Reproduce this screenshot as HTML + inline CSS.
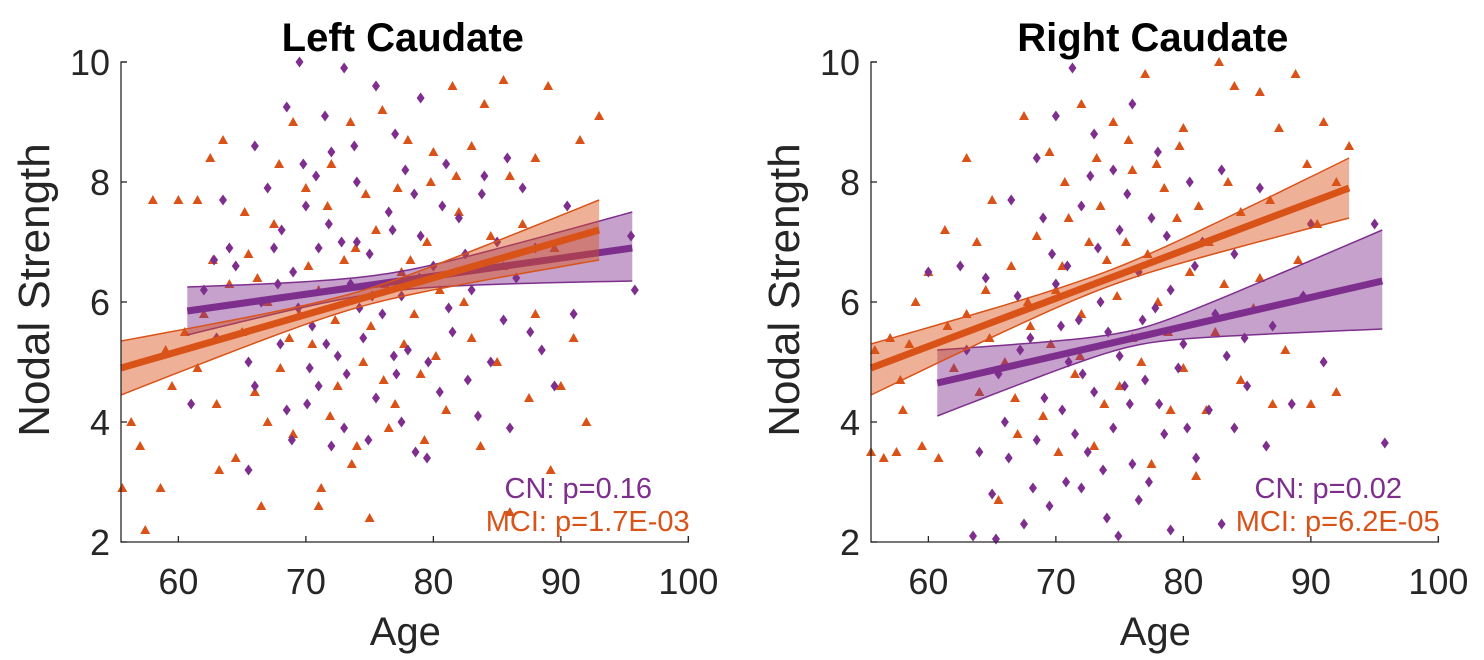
<!DOCTYPE html>
<html><head><meta charset="utf-8"><style>
html,body{margin:0;padding:0;background:#fff;}
svg{display:block;font-family:"Liberation Sans",Arial,sans-serif;}
</style></head><body>
<svg id="fig" width="1484" height="660" viewBox="0 0 1484 660"></svg>
<script>
// ---- data ----
const xTicks=[60,70,80,90,100];
const yTicks=[2,4,6,8,10];
const panelTitles=["Left Caudate","Right Caudate"];
const cnLabels=["CN: p=0.16","CN: p=0.02"];
const mciLabels=["MCI: p=1.7E-03","MCI: p=6.2E-05"];
// fit lines and CI bands: [x, fit, lower, upper] at start, narrowest point, end
const leftCnFit=[[60.7,5.85,5.45,6.25],[76,6.3,6.15,6.45],[95.6,6.9,6.35,7.5]];
const leftMciFit=[[55.5,4.9,4.45,5.35],[74,6.05,5.92,6.18],[93,7.2,6.7,7.7]];
const rightCnFit=[[60.7,4.65,4.1,5.2],[76,5.35,5.22,5.48],[95.6,6.35,5.55,7.2]];
const rightMciFit=[[55.5,4.9,4.45,5.3],[74,6.4,6.27,6.53],[93,7.9,7.4,8.4]];
const leftCn=[[69.5,10],[73,9.9],[68.5,9.25],[71.5,9.1],[75.5,9.6],[79,9.4],[66,8.6],[72,8.5],[77,8.8],[81,8.3],[84,8.1],[87,7.9],[90.5,7.6],[95.5,7.1],[95.8,6.2],[63.5,7.7],[67,7.9],[70,7.6],[74,8.0],[76.5,7.5],[78.5,7.8],[82,7.4],[85,7.0],[88,6.9],[62,6.2],[64.5,6.6],[66.5,6.0],[69,6.5],[71,6.9],[73.5,6.3],[75,6.8],[77.5,6.1],[80,6.6],[83,6.2],[86.5,6.4],[91,5.8],[63,5.4],[65.5,5.0],[68,5.3],[70.5,5.6],[72.5,5.1],[74.5,5.4],[76,5.8],[78,5.2],[81.5,5.5],[84.5,5.0],[88.5,5.2],[66,4.6],[68.5,4.2],[71,4.6],[73,3.9],[75.5,4.4],[77.5,4.0],[80.5,4.5],[83.5,4.1],[86,3.9],[72,3.6],[79.5,3.4],[65.5,3.2],[68.9,3.7],[70.3,4.9],[74,7.0],[79,7.1],[82.5,6.8],[67.5,6.9],[71.8,7.3],[76.8,7.2],[85.5,5.7],[89.5,4.6],[61,4.3],[64,6.9],[70.8,8.1],[73.8,8.6],[77.8,8.2],[80.7,7.6],[72.8,7.0],[75.2,6.1],[78.9,6.4],[81.2,5.9],[74.2,5.9],[76.9,5.1],[79.6,5.0],[71.6,5.3],[69.4,5.9],[67.8,6.3],[73.2,4.8],[77.1,4.8],[82.7,4.7],[70.1,4.3],[74.9,3.7],[78.6,3.5],[69.8,8.3],[68.1,7.2],[87.6,5.5],[83.8,7.8],[85.8,8.4],[62.8,6.7]];
const leftMci=[[55.6,2.9],[57.4,2.2],[58.6,2.9],[56.3,4.0],[57,3.6],[59.5,4.6],[60,7.7],[61.5,7.7],[62.5,8.4],[63.5,8.7],[58,7.7],[62,5.8],[63.2,3.2],[64.5,3.4],[66.5,2.6],[67,4.0],[69,9.0],[71.2,2.9],[71,2.6],[75,2.4],[86,2.5],[81.5,9.6],[84,9.3],[85.5,9.7],[89,9.6],[93,9.1],[91.5,8.7],[88,8.4],[86,8.1],[83,8.6],[80,8.5],[78,8.7],[76,9.2],[73.5,9.0],[72,8.3],[70,7.9],[67.5,7.3],[65.5,6.8],[64,6.3],[60.5,5.5],[61.5,4.9],[59,5.2],[65,5.5],[68,4.9],[70.5,5.3],[72.5,4.6],[74.5,5.0],[77,4.3],[79,4.8],[81,4.2],[83,5.4],[85,5.0],[87.5,4.4],[90,4.6],[92,4.0],[88,5.8],[85.5,6.6],[82,7.5],[79.5,7.0],[77.5,6.5],[75.5,7.2],[73,6.7],[71,6.2],[69.5,5.8],[67,6.0],[78.5,5.8],[80.5,6.2],[84.5,7.1],[87,7.3],[89.5,6.9],[91,5.4],[66,4.5],[63,4.3],[69,3.8],[74,3.6],[76.5,3.9],[71.7,7.6],[74.7,7.8],[77.2,7.9],[79.8,8.0],[81.8,8.1],[73.9,6.9],[76.2,6.3],[78.2,6.7],[70.2,6.6],[72.3,5.7],[75.1,5.6],[77.7,5.3],[80.2,5.1],[82.4,6.0],[68.7,5.4],[66.2,6.4],[71.9,4.1],[76.1,4.7],[79.3,3.7],[73.6,3.3],[83.7,3.6],[89.2,3.2],[67.9,8.3],[65.2,7.5],[62.7,6.7]];
const rightCn=[[71.3,9.9],[70,9.1],[73,8.8],[76,9.3],[68.5,8.4],[74.5,8.2],[78,8.5],[80.5,8.0],[83,8.2],[86,7.9],[90,7.3],[95,7.3],[66.5,7.7],[69,7.4],[72,7.6],[75,7.2],[77.5,7.4],[81.5,7.0],[84,6.8],[62.5,6.6],[64.5,6.4],[67,6.1],[70,6.3],[73.5,6.0],[76.5,6.5],[79,6.2],[82.5,5.8],[87,5.6],[63,5.2],[65.5,4.8],[68,5.4],[71,5.0],[73,4.5],[75,5.1],[77,4.7],[80,5.3],[85,4.6],[88.5,4.3],[66,4.0],[68.5,3.7],[70.5,4.2],[72.5,3.5],[74.5,3.9],[76,3.3],[78.5,3.8],[81,3.4],[84,3.9],[65,2.8],[67.5,2.3],[69.5,2.6],[72,2.9],[74,2.4],[76.5,2.7],[79,2.2],[63.5,2.1],[65.3,2.05],[60,6.5],[95.8,3.65],[83,2.3],[86.5,3.6],[91,5.0],[69.7,6.8],[77.8,5.9],[71.8,5.7],[82,4.2],[64,3.5],[70.8,3.0],[75.8,4.3],[72.7,8.1],[75.6,7.8],[78.7,7.1],[73.3,6.9],[70.4,5.6],[74.1,5.5],[76.8,5.7],[79.6,4.9],[72.1,4.8],[75.4,4.6],[78.1,4.3],[69.1,4.4],[71.5,3.8],[73.7,3.2],[77.3,3.0],[80.3,3.9],[83.4,5.1],[67.2,5.2],[66.3,3.4],[68.2,2.9],[74.9,2.1],[70.9,6.6],[80.9,6.6],[84.8,5.4],[89.4,6.1]];
const rightMci=[[55.5,3.5],[56.5,3.4],[57.5,3.5],[58,4.2],[59.5,3.6],[60.8,3.4],[55.8,5.2],[57,5.4],[58.5,5.3],[59,6.0],[60,6.5],[61.5,5.6],[63,8.4],[65,7.7],[67.5,9.1],[69.5,8.5],[72,9.3],[74.5,9.0],[77,9.8],[80,8.9],[82.8,10],[84,9.6],[86,9.5],[88.8,9.8],[87.5,8.9],[91,9.0],[93,8.6],[92,8.0],[90.5,7.3],[89,6.7],[86,6.4],[84.5,7.5],[82,7.0],[80.5,6.5],[78.5,7.9],[76,8.2],[73.5,7.6],[71,7.4],[68.5,7.1],[66.5,6.6],[64.5,6.2],[63,5.8],[62,4.9],[64,4.5],[66,5.0],[68,5.6],[70,6.2],[72,5.8],[74,6.7],[76,5.4],[78,6.0],[80,4.9],[82.5,5.5],[84.5,4.7],[87,4.3],[90,4.3],[92,4.5],[88,5.2],[85.5,5.9],[79,4.2],[75,4.6],[71.5,4.8],[69,4.1],[67,3.8],[73,3.6],[77.5,3.3],[81,3.1],[65.5,2.7],[70.5,6.6],[75.5,7.0],[79.5,7.4],[83.5,8.0],[67.8,6.0],[70.7,8.0],[73.2,8.4],[75.7,8.7],[77.9,8.3],[79.7,8.6],[72.6,7.0],[74.8,6.1],[77.2,6.8],[81.2,7.6],[69.6,5.3],[71.9,5.1],[76.7,5.0],[78.8,5.5],[73.8,4.3],[70.2,3.5],[66.8,4.4],[64.8,5.4],[63.8,7.0],[61.3,7.2],[57.8,4.7],[86.8,7.7],[89.7,8.3],[83.2,6.3],[81.8,4.2]];

const PURPLE="#7E2F8E", ORANGE="#D95319";
const NS="http://www.w3.org/2000/svg";
const svg=document.getElementById("fig");
function mk(tag,attrs,parent){const e=document.createElementNS(NS,tag);for(const k in attrs)e.setAttribute(k,attrs[k]);(parent||svg).appendChild(e);return e;}

// smooth CI offset: hyperbolic between mid and each end
function bandPts(f,col){
  const [s,m,e]=f;
  const slope=(e[1]-s[1])/(e[0]-s[0]);
  const fit=x=>s[1]+slope*(x-s[0]);
  const dm=Math.abs(m[col]-m[1]);
  const ds=Math.abs(s[col]-s[1]), de=Math.abs(e[col]-e[1]);
  const ks=(ds*ds-dm*dm)/Math.pow(s[0]-m[0],2), ke=(de*de-dm*dm)/Math.pow(e[0]-m[0],2);
  const sign=col===3?1:-1;
  const out=[];
  for(let i=0;i<=40;i++){
    const x=s[0]+(e[0]-s[0])*i/40;
    const k=x<m[0]?ks:ke;
    out.push([x,fit(x)+sign*Math.sqrt(dm*dm+k*(x-m[0])*(x-m[0]))]);
  }
  return out;
}

function drawPanel(idx,ox,cn,mci,cnFit,mciFit){
  const x0=121+ox, y0=542;
  const X=v=>x0+(v-55.5)*12.75;
  const Y=v=>y0-(v-2)*60;
  const g=mk("g",{});
  
  
  mci.forEach(p=>{
    const cx=X(p[0]),cy=Y(p[1]);
    const t=mk("polygon",{points:`${cx},${cy-5} ${cx-5},${cy+4} ${cx+5},${cy+4}`,fill:ORANGE},g);
    
    
  });
  cn.forEach(p=>{
    const cx=X(p[0]),cy=Y(p[1]);
    const d=mk("polygon",{points:`${cx},${cy-5.5} ${cx+4},${cy} ${cx},${cy+5.5} ${cx-4},${cy}`,fill:PURPLE},g);
    
    
  });
  [[cnFit,PURPLE,"cn"],[mciFit,ORANGE,"mci"]].forEach(([f,c,nm])=>{
    const upP=bandPts(f,3).map(r=>`${X(r[0])},${Y(r[1])}`);
    const loP=bandPts(f,2).map(r=>`${X(r[0])},${Y(r[1])}`);
    const b=mk("polygon",{points:upP.concat(loP.slice().reverse()).join(" "),fill:c,"fill-opacity":0.45,stroke:"none"},g);
    
    
    mk("polyline",{points:upP.join(" "),fill:"none",stroke:c,"stroke-width":1.5},g);
    mk("polyline",{points:loP.join(" "),fill:"none",stroke:c,"stroke-width":1.5},g);
    const l=mk("line",{x1:X(f[0][0]),y1:Y(f[0][1]),x2:X(f[2][0]),y2:Y(f[2][1]),stroke:c,"stroke-width":7},g);
    
    
  });
  const ax=mk("path",{d:`M${x0+6},${Y(10)} H${x0} V${y0} H${X(100)} V${y0-6}`,fill:"none",stroke:"#262626","stroke-width":1.3},g);
  
  
  xTicks.forEach(v=>{
    mk("line",{x1:X(v),x2:X(v),y1:y0,y2:y0-6,stroke:"#262626","stroke-width":1.3},g);
    const t=mk("text",{x:X(v),y:y0+52,"text-anchor":"middle","font-size":36,fill:"#262626"},g);
    t.textContent=v;
    
    
  });
  yTicks.forEach(v=>{
    mk("line",{x1:x0,x2:x0+6,y1:Y(v),y2:Y(v),stroke:"#262626","stroke-width":1.3},g);
    const t=mk("text",{x:x0-11,y:Y(v)+13,"text-anchor":"end","font-size":36,fill:"#262626"},g);
    t.textContent=v;
    
    
  });
  const ti=mk("text",{x:X(77.6),y:51,"text-anchor":"middle","font-size":40,"font-weight":"bold",fill:"#000"},g);
  ti.textContent=panelTitles[idx];
  
  
  const xl=mk("text",{x:X(77.8),y:645,"text-anchor":"middle","font-size":40,fill:"#262626"},g);
  xl.textContent="Age";
  
  
  const yl=mk("text",{x:0,y:0,"text-anchor":"middle","font-size":44,fill:"#262626",transform:`translate(${x0-72},${Y(6.2)}) rotate(-90)`},g);
  yl.textContent="Nodal Strength";
  
  
  const a1=mk("text",{x:X(97.15),y:498,"text-anchor":"end","font-size":29,fill:PURPLE},g);
  a1.textContent=cnLabels[idx];
  
  
  const a2=mk("text",{x:X(100.1),y:531,"text-anchor":"end","font-size":29,fill:ORANGE},g);
  a2.textContent=mciLabels[idx];
  
  
}
drawPanel(0,0,leftCn,leftMci,leftCnFit,leftMciFit);
drawPanel(1,750,rightCn,rightMci,rightCnFit,rightMciFit);
</script>
</body></html>
